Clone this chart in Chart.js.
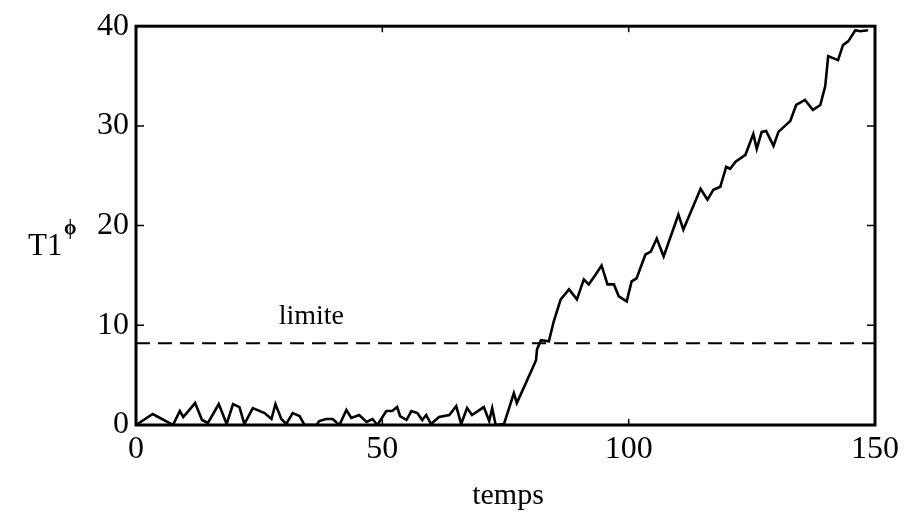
<!DOCTYPE html>
<html>
<head>
<meta charset="utf-8">
<script src="https://cdn.jsdelivr.net/npm/chart.js@4.4.1/dist/chart.umd.min.js"></script>
<style>
  html, body { margin: 0; padding: 0; background: #fff; }
</style>
</head>
<body>
<canvas id="chart" width="904" height="516"></canvas>
<script>
// temps (x) and T1 values
var temps = [0, 3.4, 7.5, 8.9, 9.6, 12, 13.4, 14.6, 16.8, 18.4, 19.7, 21, 22, 23.7, 26.1, 27.5, 28.3, 29.5,
  30.5, 31.8, 33.2, 34.2, 36.6, 37.2, 38.6, 39.9, 41.3, 42.7, 43.7, 45.3, 46.8, 48, 49, 50.8, 52, 53,
  53.6, 54.9, 55.9, 57.1, 58.1, 58.9, 59.9, 61.5, 63.6, 65, 66, 67.2, 68.2, 70.6, 71.7, 72.3, 73, 74.7,
  76.7, 77.3, 79.4, 81.2, 81.4, 82.2, 83.8, 84.8, 86.2, 87.9, 89.5, 90.9, 91.9, 93.3, 94.5, 95.7, 97,
  98, 99.6, 100.6, 101.6, 103.4, 104.5, 105.7, 107.1, 110.1, 111.1, 114.6, 116, 117.2, 118.6, 119.8,
  120.6, 121.7, 123.7, 125.3, 126, 127, 127.9, 129.4, 130.4, 132.8, 134, 135.8, 137.4, 138.9, 139.9,
  140.5, 141.5, 142.5, 143.5, 144.6, 146, 147, 148.6];
var t1 = [0, 1.1, 0, 1.4, 0.8, 2.2, 0.5, 0.2, 2.1, 0.1, 2.1, 1.8, 0.1, 1.7, 1.2, 0.6, 2.1, 0.6,
  0.1, 1.2, 0.9, 0, 0, 0.4, 0.6, 0.6, 0, 1.5, 0.7, 1.0, 0.3, 0.6, 0, 1.4, 1.4, 1.8,
  0.9, 0.5, 1.4, 1.2, 0.5, 1.0, 0.1, 0.8, 1.0, 1.9, 0.1, 1.7, 1.0, 1.8, 0.4, 1.7, 0, 0.1,
  3.2, 2.2, 4.5, 6.5, 7.6, 8.5, 8.4, 10.4, 12.6, 13.6, 12.6, 14.6, 14.1, 15.1, 16.0, 14.1, 14.1,
  12.9, 12.4, 14.4, 14.7, 17.1, 17.4, 18.7, 16.9, 21.1, 19.6, 23.7, 22.6, 23.6, 23.9, 25.9,
  25.7, 26.4, 27.1, 29.2, 27.7, 29.4, 29.5, 28, 29.4, 30.5, 32.1, 32.6, 31.6, 32.1, 34,
  37, 36.8, 36.6, 38.1, 38.5, 39.6, 39.5, 39.6];
var limite = 8.2;
var xTicks = [0, 50, 100, 150];
var yTicks = [0, 10, 20, 30, 40];

var serif = '"Liberation Serif", "DejaVu Serif", serif';

// box round the plot, inward ticks on all four sides, axis titles
var framePlugin = {
  id: 'frame',
  afterDatasetsDraw: function (chart) {
    var ctx = chart.ctx;
    var a = chart.chartArea;
    var xs = chart.scales.x, ys = chart.scales.y;
    ctx.save();
    ctx.strokeStyle = '#000';
    ctx.lineWidth = 3;
    ctx.strokeRect(a.left, a.top, a.right - a.left, a.bottom - a.top);
    ctx.lineWidth = 1.5;
    ctx.beginPath();
    xTicks.forEach(function (v) {
      var px = xs.getPixelForValue(v);
      ctx.moveTo(px, a.bottom); ctx.lineTo(px, a.bottom - 6);
      ctx.moveTo(px, a.top); ctx.lineTo(px, a.top + 6);
    });
    yTicks.forEach(function (v) {
      var py = ys.getPixelForValue(v);
      ctx.moveTo(a.left, py); ctx.lineTo(a.left + 8, py);
      ctx.moveTo(a.right, py); ctx.lineTo(a.right - 8, py);
    });
    ctx.stroke();

    ctx.fillStyle = '#000';
    ctx.textAlign = 'center';
    ctx.textBaseline = 'middle';
    ctx.font = '28px ' + serif;
    ctx.fillText('limite', xs.getPixelForValue(35.6), ys.getPixelForValue(10.9));
    ctx.font = '30px ' + serif;
    ctx.fillText('temps', 508, 496);
    ctx.textAlign = 'left';
    ctx.font = '31px ' + serif;
    ctx.fillText('T1', 28, 247);
    ctx.font = 'bold 20px ' + serif;
    ctx.fillText('\u03D5', 64, 229);
    ctx.restore();
  }
};

new Chart(document.getElementById('chart'), {
  type: 'line',
  data: {
    datasets: [
      {
        data: temps.map(function (x, i) { return { x: x, y: t1[i] }; }),
        borderColor: '#000',
        borderWidth: 2.6,
        pointRadius: 0,
        tension: 0,
        fill: false
      },
      {
        data: [{ x: 0, y: limite }, { x: 150, y: limite }],
        borderColor: '#000',
        borderWidth: 2,
        borderDash: [14, 8],
        pointRadius: 0,
        fill: false
      }
    ]
  },
  options: {
    responsive: false,
    animation: false,
    devicePixelRatio: 1,
    layout: { padding: { top: 23, right: 27, left: 0, bottom: 0 } },
    plugins: { legend: { display: false }, tooltip: { enabled: false } },
    scales: {
      x: {
        type: 'linear',
        min: 0, max: 150,
        afterBuildTicks: function (s) { s.ticks = xTicks.map(function (v) { return { value: v }; }); },
        afterFit: function (s) { s.height = 91; },
        grid: { display: false, drawTicks: false },
        border: { display: false },
        ticks: { color: '#000', font: { family: serif, size: 32 }, padding: 5, maxRotation: 0 }
      },
      y: {
        min: 0, max: 40,
        afterBuildTicks: function (s) { s.ticks = yTicks.map(function (v) { return { value: v }; }); },
        afterFit: function (s) { s.width = 136; },
        grid: { display: false, drawTicks: false },
        border: { display: false },
        ticks: { color: '#000', font: { family: serif, size: 32 }, padding: 7 }
      }
    }
  },
  plugins: [framePlugin]
});
</script>
</body>
</html>
